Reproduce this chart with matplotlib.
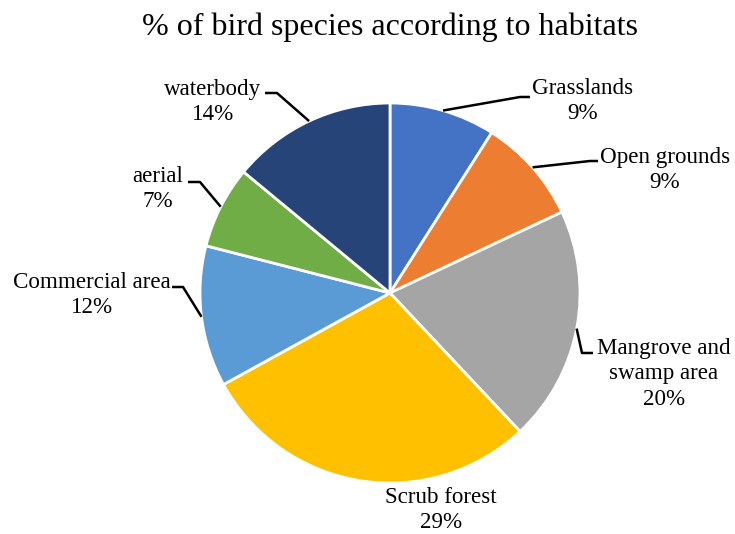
import matplotlib
matplotlib.use("Agg")
import matplotlib.pyplot as plt
import numpy as np

habitats = ["Grasslands", "Open grounds", "Mangrove and\nswamp area", "Scrub forest",
            "Commercial area", "aerial", "waterbody"]
shares = [9, 9, 20, 29, 12, 7, 14]
colors = ["#4472C4", "#ED7D31", "#A5A5A5", "#FFC000", "#5B9BD5", "#70AD47", "#264478"]

W, H = 735, 534
# label layout in pixel coords (top-left origin): text centre, elbow, end of the short horizontal
text_xy = [(583, 101), (665, 170), (664, 374), (441, 510), (92, 295), (158, 189), (213, 102)]
elbows = [(520, 97), (590, 161), (582, 353), None, (183, 287), (200, 182), (277, 93)]
stubs = [(530, 97), (598, 161), (593, 353), None, (172, 287), (188, 182), (265, 93)]

cx, cy, r = 390, H - 293, 190

plt.rcParams["font.family"] = ["Liberation Serif", "DejaVu Serif"]
fig = plt.figure(figsize=(W / 100, H / 100), dpi=100)
ax = fig.add_axes([0, 0, 1, 1])
wedges, _ = ax.pie(shares, colors=colors, startangle=90, counterclock=False,
                   center=(cx, cy), radius=r,
                   wedgeprops=dict(edgecolor="white", linewidth=2))
ax.set_xlim(0, W)
ax.set_ylim(0, H)
ax.set_aspect("equal")
ax.axis("off")

for w, name, v, t, e, s in zip(wedges, habitats, shares, text_xy, elbows, stubs):
    ax.text(t[0], H - t[1], f"{name}\n{v}%", ha="center", va="center",
            fontsize=16.6, linespacing=1.27)
    if e is None:
        continue
    mid = np.deg2rad((w.theta1 + w.theta2) / 2)
    px, py = cx + r * np.cos(mid), cy + r * np.sin(mid)
    ax.plot([px, e[0], s[0]], [py, H - e[1], H - s[1]], color="black", lw=1.8,
            solid_capstyle="butt")

fig.text(390 / W, 1 - 27 / H, "% of bird species according to habitats",
         ha="center", va="center", fontsize=23)

fig.savefig("out.png", dpi=100)
